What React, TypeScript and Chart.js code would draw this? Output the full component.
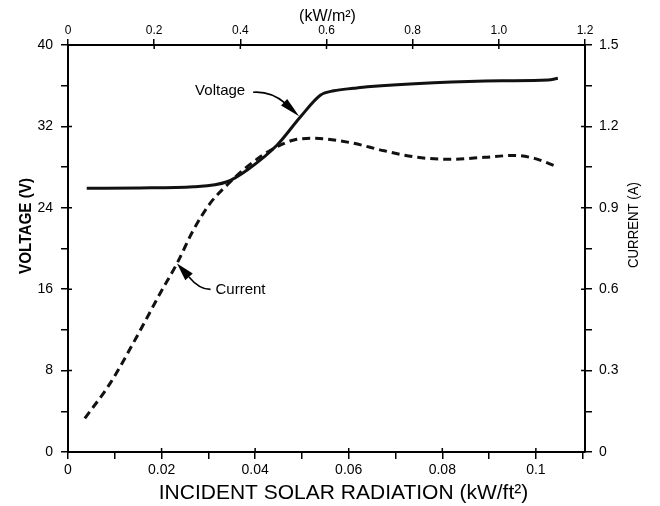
import { useEffect, useRef } from 'react';
import { Chart, registerables } from 'chart.js';

Chart.register(...registerables);

// ---- Data ----
const radiationV = [0.004, 0.0154, 0.0268, 0.034, 0.0383, 0.0447, 0.0497, 0.054, 0.0568, 0.0611, 0.064, 0.0782, 0.0926, 0.1026, 0.1047];
const voltage = [25.92, 25.95, 26.07, 26.56, 27.72, 30.17, 32.95, 35.09, 35.5, 35.75, 35.9, 36.3, 36.49, 36.56, 36.73];

const radiationI = [0.0036, 0.009, 0.0147, 0.0197, 0.0233, 0.0268, 0.0304, 0.034, 0.0383, 0.044, 0.0483, 0.0526, 0.0604, 0.0676, 0.0747, 0.0819, 0.089, 0.0954, 0.0997, 0.1044];
const current = [0.124, 0.253, 0.425, 0.585, 0.695, 0.818, 0.917, 0.984, 1.052, 1.119, 1.15, 1.156, 1.14, 1.11, 1.086, 1.079, 1.086, 1.093, 1.082, 1.052];

// ---- Axes / ticks ----
const X_MAX = 0.1105;
const xTickValues = [0, 0.01, 0.02, 0.03, 0.04, 0.05, 0.06, 0.07, 0.08, 0.09, 0.1, 0.11];
const xTickLabels = ['0', '', '0.02', '', '0.04', '', '0.06', '', '0.08', '', '0.1', ''];

const X2_MAX = 1.2;
const x2TickValues = [0, 0.2, 0.4, 0.6, 0.8, 1.0, 1.2];
const x2TickLabels = ['0', '0.2', '0.4', '0.6', '0.8', '1.0', '1.2'];

const vTickValues = [0, 4, 8, 12, 16, 20, 24, 28, 32, 36, 40];
const vTickLabels = ['0', '', '8', '', '16', '', '24', '', '32', '', '40'];

const iTickValues = [0, 0.15, 0.3, 0.45, 0.6, 0.75, 0.9, 1.05, 1.2, 1.35, 1.5];
const iTickLabels = ['0', '', '0.3', '', '0.6', '', '0.9', '', '1.2', '', '1.5'];

// annotation anchors (data values)
const voltageCallout = { x: 0.0494, y: 33.0 };
const currentCallout = { x: 0.0233, y: 0.695 };

const FONT = '"Liberation Sans", Arial, Helvetica, sans-serif';

function arrowHead(ctx: CanvasRenderingContext2D, bx: number, by: number, tx: number, ty: number, halfW: number) {
  const dx = tx - bx;
  const dy = ty - by;
  const len = Math.hypot(dx, dy);
  const nx = -dy / len;
  const ny = dx / len;
  ctx.beginPath();
  ctx.moveTo(tx, ty);
  ctx.lineTo(bx + nx * halfW, by + ny * halfW);
  ctx.lineTo(bx - nx * halfW, by - ny * halfW);
  ctx.closePath();
  ctx.fill();
}

const decorPlugin = {
  id: 'decor',
  beforeDraw(chart: any) {
    const { ctx } = chart;
    ctx.save();
    ctx.fillStyle = '#ffffff';
    ctx.fillRect(0, 0, chart.width, chart.height);
    ctx.restore();
  },
  afterDraw(chart: any) {
    const { ctx, chartArea, scales } = chart;
    ctx.save();
    ctx.fillStyle = '#000';
    ctx.strokeStyle = '#000';

    // short inward ticks at labelled (major) positions
    ctx.lineWidth = 1.5;
    ctx.beginPath();
    const inner = 4;
    vTickValues.forEach((v, i) => {
      if (!vTickLabels[i]) return;
      const py = scales.y.getPixelForValue(v);
      ctx.moveTo(chartArea.left, py);
      ctx.lineTo(chartArea.left + inner, py);
    });
    iTickValues.forEach((v, i) => {
      if (!iTickLabels[i]) return;
      const py = scales.y1.getPixelForValue(v);
      ctx.moveTo(chartArea.right, py);
      ctx.lineTo(chartArea.right - inner, py);
    });
    xTickValues.forEach((v, i) => {
      if (!xTickLabels[i]) return;
      const px = scales.x.getPixelForValue(v);
      ctx.moveTo(px, chartArea.bottom);
      ctx.lineTo(px, chartArea.bottom - inner);
    });
    x2TickValues.forEach((v) => {
      const px = scales.x2.getPixelForValue(v);
      ctx.moveTo(px, chartArea.top);
      ctx.lineTo(px, chartArea.top + inner);
    });
    ctx.stroke();

    const cx = (chartArea.left + chartArea.right) / 2;

    // top title
    ctx.font = `16px ${FONT}`;
    ctx.textAlign = 'center';
    ctx.textBaseline = 'middle';
    ctx.fillText('(kW/m²)', cx + 1, 17);

    // bottom title
    ctx.font = `21px ${FONT}`;
    ctx.textBaseline = 'alphabetic';
    ctx.fillText('INCIDENT SOLAR RADIATION (kW/ft²)', cx + 17, 499, 384);

    // left title
    ctx.save();
    ctx.translate(26, 226);
    ctx.rotate(-Math.PI / 2);
    ctx.font = `bold 17px ${FONT}`;
    ctx.textBaseline = 'middle';
    ctx.fillText('VOLTAGE (V)', 0, 0, 96);
    ctx.restore();

    // right title
    ctx.save();
    ctx.translate(634, 225);
    ctx.rotate(-Math.PI / 2);
    ctx.font = `15px ${FONT}`;
    ctx.textBaseline = 'middle';
    ctx.fillText('CURRENT (A)', 0, 0, 86);
    ctx.restore();

    // Voltage callout
    {
      const tx = scales.x.getPixelForValue(voltageCallout.x);
      const ty = scales.y.getPixelForValue(voltageCallout.y);
      ctx.font = `15px ${FONT}`;
      ctx.textAlign = 'center';
      ctx.textBaseline = 'middle';
      ctx.fillText('Voltage', tx - 79, ty - 25.5);
      ctx.lineWidth = 1.6;
      ctx.beginPath();
      ctx.moveTo(tx - 46, ty - 24);
      ctx.bezierCurveTo(tx - 36, ty - 24.7, tx - 24, ty - 21.7, tx - 14, ty - 13);
      ctx.stroke();
      arrowHead(ctx, tx - 15, ty - 14, tx, ty, 4.5);
    }

    // Current callout
    {
      const tx = scales.x.getPixelForValue(currentCallout.x);
      const ty = scales.y1.getPixelForValue(currentCallout.y);
      ctx.font = `15px ${FONT}`;
      ctx.textAlign = 'left';
      ctx.textBaseline = 'middle';
      ctx.fillText('Current', tx + 38.5, ty + 26);
      ctx.lineWidth = 1.6;
      ctx.beginPath();
      ctx.moveTo(tx + 33.5, ty + 26);
      ctx.bezierCurveTo(tx + 25, ty + 26, tx + 19, ty + 22, tx + 12, ty + 13.5);
      ctx.stroke();
      arrowHead(ctx, tx + 12, ty + 13.5, tx, ty, 5);
    }

    ctx.restore();
  },
};

function setTicks(values: number[]) {
  return (axis: any) => {
    axis.ticks = values.map((v) => ({ value: v }));
  };
}

export default function App() {
  const canvasRef = useRef<HTMLCanvasElement | null>(null);

  useEffect(() => {
    const canvas = canvasRef.current;
    if (!canvas) return;

    const voltagePoints = radiationV.map((x, i) => ({ x, y: voltage[i] }));
    const currentPoints = radiationI.map((x, i) => ({ x, y: current[i] }));

    const gridCommon = {
      drawOnChartArea: false,
      drawTicks: true,
      color: '#000',
      lineWidth: 1.5,
    };
    const border = { display: true, color: '#000', width: 2 };

    const chart = new Chart(canvas, {
      type: 'line',
      data: {
        datasets: [
          {
            label: 'Voltage',
            data: voltagePoints,
            xAxisID: 'x',
            yAxisID: 'y',
            borderColor: '#111',
            borderWidth: 3,
            pointRadius: 0,
            cubicInterpolationMode: 'monotone',
            fill: false,
          },
          {
            label: 'Current',
            data: currentPoints,
            xAxisID: 'x',
            yAxisID: 'y1',
            borderColor: '#111',
            borderWidth: 3,
            borderDash: [8, 5],
            pointRadius: 0,
            cubicInterpolationMode: 'monotone',
            fill: false,
          },
        ],
      },
      options: {
        responsive: false,
        animation: false,
        devicePixelRatio: 1,
        layout: { padding: 0 },
        plugins: {
          legend: { display: false },
          tooltip: { enabled: false },
          title: { display: false },
        },
        scales: {
          x: {
            type: 'linear',
            position: 'bottom',
            min: 0,
            max: X_MAX,
            afterBuildTicks: setTicks(xTickValues),
            afterFit: (s: any) => { s.height = 54; },
            ticks: {
              autoSkip: false,
              maxRotation: 0,
              color: '#000',
              padding: 3,
              font: { family: FONT, size: 14 },
              callback: (_v: any, i: number) => xTickLabels[i] ?? '',
            },
            grid: { ...gridCommon, tickLength: 7 },
            border,
          },
          x2: {
            type: 'linear',
            position: 'top',
            min: 0,
            max: X2_MAX,
            afterBuildTicks: setTicks(x2TickValues),
            afterFit: (s: any) => { s.height = 45; },
            ticks: {
              autoSkip: false,
              maxRotation: 0,
              color: '#000',
              padding: 1,
              font: { family: FONT, size: 12 },
              callback: (_v: any, i: number) => x2TickLabels[i] ?? '',
            },
            grid: { ...gridCommon, tickLength: 6 },
            border,
          },
          y: {
            type: 'linear',
            position: 'left',
            min: 0,
            max: 40,
            afterBuildTicks: setTicks(vTickValues),
            afterFit: (s: any) => { s.width = 68; },
            ticks: {
              autoSkip: false,
              color: '#000',
              padding: 8,
              font: { family: FONT, size: 14 },
              callback: (_v: any, i: number) => vTickLabels[i] ?? '',
            },
            grid: { ...gridCommon, tickLength: 7 },
            border,
          },
          y1: {
            type: 'linear',
            position: 'right',
            min: 0,
            max: 1.5,
            afterBuildTicks: setTicks(iTickValues),
            afterFit: (s: any) => { s.width = 75; },
            ticks: {
              autoSkip: false,
              color: '#000',
              padding: 7,
              font: { family: FONT, size: 14 },
              callback: (_v: any, i: number) => iTickLabels[i] ?? '',
            },
            grid: { ...gridCommon, tickLength: 7 },
            border,
          },
        },
      } as any,
      plugins: [decorPlugin],
    });

    return () => {
      chart.destroy();
    };
  }, []);

  return (
    <div style={{ position: 'fixed', left: 0, top: 0, width: 660, height: 506, background: '#fff' }}>
      <canvas ref={canvasRef} width={660} height={506} style={{ display: 'block', width: 660, height: 506 }} />
    </div>
  );
}
